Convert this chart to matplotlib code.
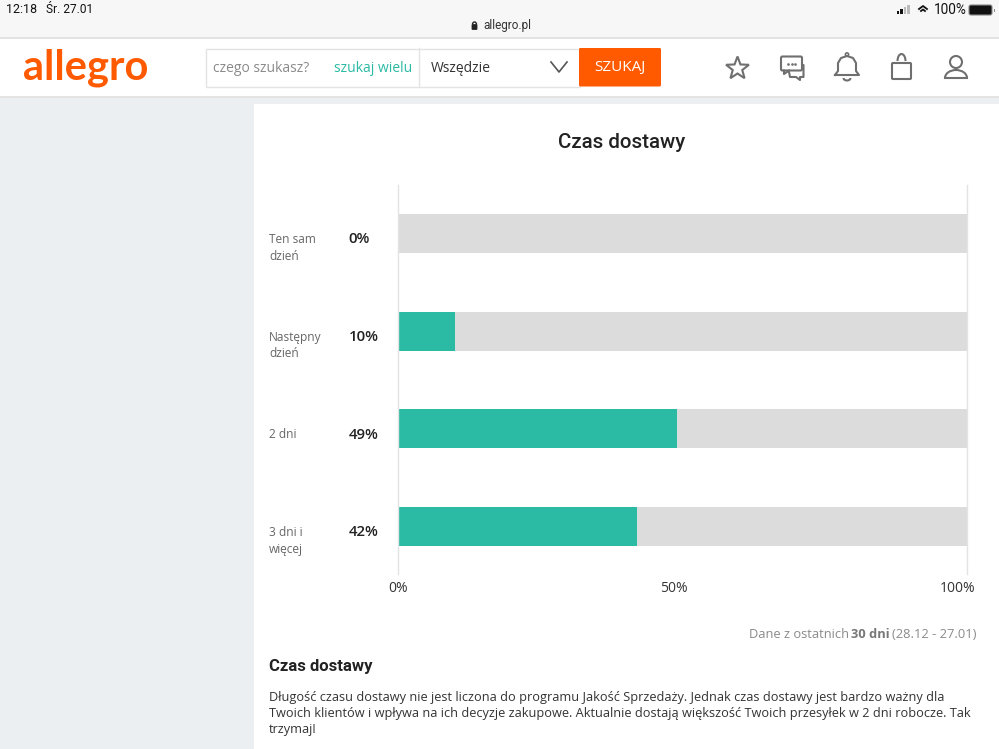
import numpy as np
import matplotlib
matplotlib.use('Agg')
import matplotlib.pyplot as plt
from matplotlib.patches import Rectangle, FancyBboxPatch, Circle, Polygon, Arc
from matplotlib.transforms import ScaledTranslation

categories = ['Ten sam\ndzień', 'Następny\ndzień', '2 dni', '3 dni i\nwięcej']
values = [0, 10, 49, 42]
value_labels = ['0%', '10%', '49%', '42%']
tick_values = [0, 50, 100]
tick_labels = ['0%', '50%', '100%']

GREEN = '#2bbaa3'
GREY = '#dcdcdc'
ORANGE = '#ff5a00'
ICON = '#6f6f6f'

W, H = 999, 749
fig = plt.figure(figsize=(W / 100, H / 100), dpi=100, facecolor='white')

# page chrome, in pixel coordinates
bg = fig.add_axes([0, 0, 1, 1], zorder=0)
bg.set_xlim(0, W)
bg.set_ylim(H, 0)
bg.axis('off')

def box(x, y, w, h, color, **kw):
    bg.add_patch(Rectangle((x, y), w, h, facecolor=color, edgecolor='none', **kw))

def label(x, y, s, size, color='#222222', family='Open Sans', ha='left', weight='normal', **kw):
    bg.text(x, y, s, fontsize=size, color=color, family=family, ha=ha, va='center',
            weight=weight, **kw)

box(0, 0, W, 38, '#f7f7f7')
box(0, 37, W, 2, '#e3e3e3')
box(0, 39, W, 57, 'white')
box(0, 96, W, 2, '#e3e3e3')
box(0, 98, W, H - 98, '#ebeff2')
box(254, 104, W - 254, H - 104, 'white')

# status bar
label(6, 9.5, '12:18', 9, '#111111', 'Roboto')
label(46, 9.5, 'Śr. 27.01', 8.6, '#111111', 'Roboto')
label(934, 9.5, '100%', 9.8, '#111111', 'Roboto')
for i, hgt in enumerate([3, 5, 7, 9]):
    box(897 + i * 3.4, 14 - hgt, 2.4, hgt, '#111111' if i < 2 else '#bbbbbb')
bg.plot([919, 923, 927], [9, 6, 9], color='#111111', lw=1.3)
bg.plot([921, 923, 925], [11, 9.5, 11], color='#111111', lw=1.3)
bg.add_patch(FancyBboxPatch((970, 6), 21, 8, boxstyle='round,pad=1,rounding_size=2',
                            facecolor='#111111', edgecolor='#888888', lw=0.8))
box(994, 8.5, 1, 3, '#888888')

# address bar
bg.add_patch(FancyBboxPatch((472, 24.5), 5, 5, boxstyle='round,pad=0.4,rounding_size=1',
                            facecolor='#222222', edgecolor='none'))
bg.add_patch(Arc((474.5, 24.5), 4, 5, theta1=180, theta2=360, color='#222222', lw=1))
label(483, 26, 'allegro.pl', 8.5, '#333333', 'Roboto')

# logo and search box
label(23, 67.5, 'allegro', 30, ORANGE, 'Lato', weight='bold')
bg.add_patch(Rectangle((205.5, 48.5), 374, 38, facecolor='white', edgecolor='#e3e3e3', lw=1))
bg.plot([419, 419], [48, 87], color='#e3e3e3', lw=1)
label(213, 68.5, 'czego szukasz?', 10, '#8a8a8a')
label(334, 68, 'szukaj wielu', 10, GREEN)
label(431, 68, 'Wszędzie', 10, '#333333')
bg.plot([551, 559, 567], [62, 72, 62], color='#555555', lw=1.2)
bg.add_patch(FancyBboxPatch((579, 48), 82, 38.5, boxstyle='round,pad=0,rounding_size=1.5',
                            facecolor=ORANGE, edgecolor='none'))
label(620, 68, 'SZUKAJ', 11, 'white', ha='center')

# toolbar icons
ang = np.pi / 2 + np.arange(10) * np.pi / 5
rad = np.where(np.arange(10) % 2 == 0, 12, 5)
bg.add_patch(Polygon(np.c_[737.5 + rad * np.cos(ang), 68.5 - rad * np.sin(ang)],
                     facecolor='none', edgecolor=ICON, lw=1.5))
bg.add_patch(FancyBboxPatch((781, 56.5), 21, 14, boxstyle='round,pad=0,rounding_size=1.5',
                            facecolor='white', edgecolor=ICON, lw=1.5, zorder=3))
bg.plot([784, 784, 789], [70.5, 74, 70.5], color=ICON, lw=1.5, zorder=3)
bg.plot([802, 803.5, 803.5, 800, 800, 796, 790, 789], [65, 65, 77, 77, 80, 77, 77, 72],
        color=ICON, lw=1.5, zorder=2)
bg.scatter([788, 791.5, 795], [63.5, 63.5, 63.5], s=0.8, color=ICON, zorder=4)
bg.plot([835, 838, 838, 841, 847, 853, 856, 856, 859, 835],
        [75, 71, 63, 58, 56, 58, 63, 71, 75, 75], color=ICON, lw=1.5)
bg.add_patch(Circle((847, 54.5), 1.6, facecolor='none', edgecolor=ICON, lw=1.2))
bg.add_patch(Arc((847, 78), 7, 5, theta1=0, theta2=180, color=ICON, lw=1.5))
bg.add_patch(FancyBboxPatch((892, 63), 19, 16, boxstyle='round,pad=0,rounding_size=1',
                            facecolor='none', edgecolor=ICON, lw=1.5))
bg.add_patch(Arc((901.5, 61), 8, 14, theta1=180, theta2=360, color=ICON, lw=1.5))
bg.add_patch(Circle((956, 62), 6, facecolor='none', edgecolor=ICON, lw=1.5))
bg.add_patch(Arc((956, 78), 22, 16, theta1=180, theta2=360, color=ICON, lw=1.5))
bg.plot([945, 967], [78, 78], color=ICON, lw=1.5)

# texts around the chart
label(622, 142, 'Czas dostawy', 14.8, '#222222', 'Roboto', ha='center', weight='medium')
bg.text(749, 634, 'Dane z ostatnich', fontsize=9.3, color='#8a8a8a', family='Open Sans', va='center')
bg.text(851, 634, '30 dni', fontsize=9.3, color='#777777', family='Open Sans', weight='bold', va='center')
bg.text(976, 634, '(28.12 - 27.01)', fontsize=9.3, color='#8a8a8a', family='Open Sans', va='center', ha='right')
label(269, 666, 'Czas dostawy', 12, '#222222', 'Roboto', weight='bold')
label(269, 698, 'Długość czasu dostawy nie jest liczona do programu Jakość Sprzedaży. Jednak czas dostawy jest bardzo ważny dla', 9.15, '#333333')
label(269, 714, 'Twoich klientów i wpływa na ich decyzje zakupowe. Aktualnie dostają większość Twoich przesyłek w 2 dni robocze. Tak', 9.15, '#333333')
label(269, 730, 'trzymaj!', 9.15, '#333333')

# the chart itself
ax = fig.add_axes([398 / W, 1 - 574 / H, 569 / W, 389 / H], zorder=1)
ax.patch.set_alpha(0)
y = np.arange(len(categories))
ax.barh(y, [100] * len(values), height=0.4, color=GREY)
ax.barh(y, values, height=0.4, color=GREEN)
ax.set_xlim(0, 100)
ax.set_ylim(3.486, -0.4966)
ax.set_yticks([])
ax.set_xticks(tick_values)
ax.set_xticklabels(tick_labels, fontsize=10, color='#333333', family='Open Sans')
ax.tick_params(axis='x', length=0, pad=5)
for lab, dx in zip(ax.get_xticklabels(), [0, -9, -9]):
    lab.set_transform(lab.get_transform() + ScaledTranslation(dx / 100, 0, fig.dpi_scale_trans))
for s in ['top', 'bottom']:
    ax.spines[s].set_visible(False)
for s in ['left', 'right']:
    ax.spines[s].set_color('#e3e3e3')
    ax.spines[s].set_linewidth(1)

tr = ax.get_yaxis_transform()
for i, cat in enumerate(categories):
    ax.text(-129 / 569, i - 0.005, cat, transform=tr, fontsize=8.6, color='#666666',
            family='Open Sans', va='top', ha='left', linespacing=1.35)
    ax.text(-49.5 / 569, i + 0.06, value_labels[i], transform=tr, fontsize=10.8, color='#222222',
            family='Open Sans', weight='semibold', va='center', ha='left')

fig.savefig('out.png', dpi=100)
